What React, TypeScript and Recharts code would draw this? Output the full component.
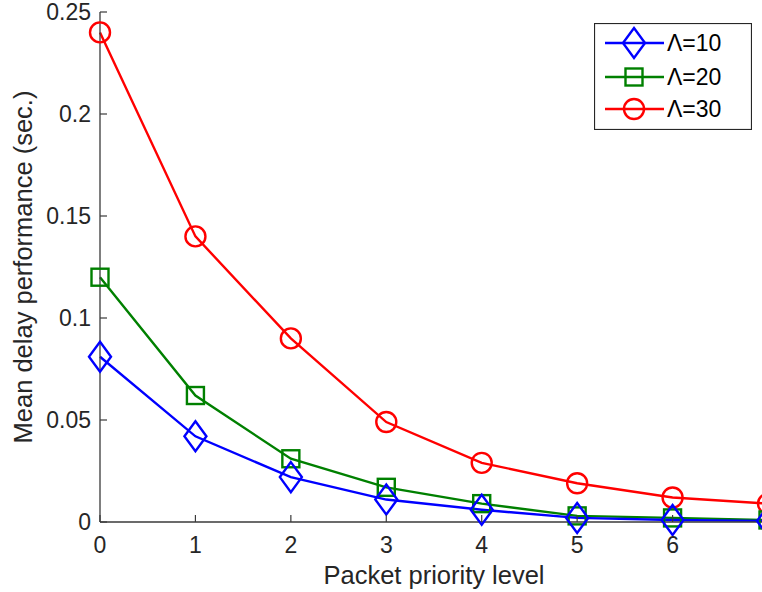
import React from 'react';
import { LineChart, Line, XAxis, YAxis, Legend } from 'recharts';

const priorityLevels = [0, 1, 2, 3, 4, 5, 6, 7];
const lambda10 = [0.081, 0.042, 0.022, 0.011, 0.006, 0.002, 0.001, 0.0005];
const lambda20 = [0.12, 0.062, 0.031, 0.017, 0.009, 0.003, 0.002, 0.001];
const lambda30 = [0.24, 0.14, 0.09, 0.049, 0.029, 0.019, 0.012, 0.009];
const seriesNames = ['Λ=10', 'Λ=20', 'Λ=30'];
const seriesColors = ['#0000ff', '#008000', '#ff0000'];
const seriesShapes = ['diamond', 'square', 'circle'];
const xTicks = [0, 1, 2, 3, 4, 5, 6];
const yTicks = [0, 0.05, 0.1, 0.15, 0.2, 0.25];
const yTickLabels = ['0', '0.05', '0.1', '0.15', '0.2', '0.25'];
const xLabel = 'Packet priority level';
const yLabel = 'Mean delay performance (sec.)';

const data = priorityLevels.map((p, i) => ({
  p,
  s10: lambda10[i],
  s20: lambda20[i],
  s30: lambda30[i],
}));

const FONT = '"Liberation Sans", Arial, Helvetica, sans-serif';
const AXIS = '#262626';
const AXIS_LINE = '#3a3a3a';
const TICK_FS = 23;
const LABEL_FS = 25.5;
const TICK_LEN = 7;
const LW = 2.4;

function Marker({ shape, cx, cy, color }: any) {
  if (cx == null || cy == null) return null;
  if (shape === 'diamond') {
    const w = 11, h = 15;
    return (
      <path
        d={`M${cx},${cy - h}L${cx + w},${cy}L${cx},${cy + h}L${cx - w},${cy}Z`}
        fill="none"
        stroke={color}
        strokeWidth={LW}
      />
    );
  }
  if (shape === 'square') {
    const s = 8.5;
    return (
      <rect x={cx - s} y={cy - s} width={2 * s} height={2 * s} fill="none" stroke={color} strokeWidth={LW} />
    );
  }
  return <circle cx={cx} cy={cy} r={10} fill="none" stroke={color} strokeWidth={LW} />;
}

const makeDot = (shape: string, color: string) => (props: any) => (
  <Marker key={`${shape}-${props.index}`} shape={shape} cx={props.cx} cy={props.cy} color={color} />
);

const BottomTick = (props: any) => {
  const { x, y, payload } = props;
  return (
    <g>
      <line x1={x} y1={y} x2={x} y2={y - TICK_LEN} stroke={AXIS_LINE} strokeWidth={1.2} />
      <text x={x} y={y + 23} textAnchor="middle" dominantBaseline="central" fontSize={TICK_FS} fontFamily={FONT} fill={AXIS}>
        {payload.value}
      </text>
    </g>
  );
};

const TopTick = (props: any) => {
  const { x, y } = props;
  return <line x1={x} y1={y} x2={x} y2={y + TICK_LEN} stroke={AXIS_LINE} strokeWidth={1.2} />;
};

const LeftTick = (props: any) => {
  const { x, y, payload } = props;
  const idx = yTicks.indexOf(payload.value);
  return (
    <g>
      <line x1={x} y1={y} x2={x + TICK_LEN} y2={y} stroke={AXIS_LINE} strokeWidth={1.2} />
      <text x={x - 9} y={y} textAnchor="end" dominantBaseline="central" fontSize={TICK_FS} fontFamily={FONT} fill={AXIS}>
        {idx >= 0 ? yTickLabels[idx] : payload.value}
      </text>
    </g>
  );
};

const RightTick = (props: any) => {
  const { x, y } = props;
  return <line x1={x} y1={y} x2={x - TICK_LEN} y2={y} stroke={AXIS_LINE} strokeWidth={1.2} />;
};

const XLabel = (props: any) => {
  const vb = props.viewBox || {};
  const cx = vb.x + vb.width / 2;
  return (
    <text x={cx} y={vb.y + 62} textAnchor="middle" fontSize={LABEL_FS} fontFamily={FONT} fill={AXIS}>
      {xLabel}
    </text>
  );
};

const YLabel = (props: any) => {
  const vb = props.viewBox || {};
  const cy = vb.y + vb.height / 2;
  const cx = vb.x + 32;
  return (
    <text
      x={cx}
      y={cy}
      transform={`rotate(-90, ${cx}, ${cy})`}
      textAnchor="middle"
      fontSize={LABEL_FS}
      fontFamily={FONT}
      fill={AXIS}
    >
      {yLabel}
    </text>
  );
};

const LegendBox = () => {
  const rowY = [20, 54, 86];
  return (
    <svg width={158} height={107} style={{ display: 'block' }}>
      <rect x={0.5} y={0.5} width={157} height={106} fill="#ffffff" stroke={AXIS} strokeWidth={1.2} />
      {seriesNames.map((name, i) => (
        <g key={name}>
          <line x1={11} y1={rowY[i]} x2={70} y2={rowY[i]} stroke={seriesColors[i]} strokeWidth={LW} />
          <Marker shape={seriesShapes[i]} cx={40} cy={rowY[i]} color={seriesColors[i]} />
          <text x={73} y={rowY[i]} dominantBaseline="central" fontSize={TICK_FS} fontFamily={FONT} fill="#000">
            {name}
          </text>
        </g>
      ))}
    </svg>
  );
};

export default function App() {
  return (
    <div style={{ position: 'absolute', left: 0, top: 0, width: 762, height: 592, overflow: 'hidden', background: '#fff' }}>
      <LineChart
        width={790}
        height={592}
        data={data}
        margin={{ top: 12, right: 22, bottom: 0, left: 0 }}
      >
        <XAxis
          xAxisId="bottom"
          dataKey="p"
          type="number"
          domain={[0, 7]}
          ticks={xTicks}
          orientation="bottom"
          height={70}
          tickSize={0}
          tickMargin={0}
          tickLine={false}
          axisLine={{ stroke: AXIS_LINE, strokeWidth: 1.3 }}
          tick={<BottomTick />}
          interval={0}
          label={<XLabel />}
        />
        <XAxis
          xAxisId="top"
          dataKey="p"
          type="number"
          domain={[0, 7]}
          ticks={xTicks}
          orientation="top"
          height={0}
          tickSize={0}
          tickMargin={0}
          tickLine={false}
          axisLine={{ stroke: AXIS_LINE, strokeWidth: 1.3 }}
          tick={<TopTick />}
          interval={0}
        />
        <YAxis
          yAxisId="left"
          type="number"
          domain={[0, 0.25]}
          ticks={yTicks}
          width={100}
          tickSize={0}
          tickMargin={0}
          tickLine={false}
          axisLine={{ stroke: AXIS_LINE, strokeWidth: 1.3 }}
          tick={<LeftTick />}
          interval={0}
          label={<YLabel />}
        />
        <YAxis
          yAxisId="right"
          orientation="right"
          type="number"
          domain={[0, 0.25]}
          ticks={yTicks}
          width={0}
          tickSize={0}
          tickMargin={0}
          tickLine={false}
          axisLine={{ stroke: AXIS_LINE, strokeWidth: 1.3 }}
          tick={<RightTick />}
          interval={0}
        />
        <Line
          xAxisId="bottom"
          yAxisId="left"
          dataKey="s30"
          name={seriesNames[2]}
          stroke={seriesColors[2]}
          strokeWidth={LW}
          dot={makeDot('circle', seriesColors[2])}
          isAnimationActive={false}
        />
        <Line
          xAxisId="bottom"
          yAxisId="left"
          dataKey="s20"
          name={seriesNames[1]}
          stroke={seriesColors[1]}
          strokeWidth={LW}
          dot={makeDot('square', seriesColors[1])}
          isAnimationActive={false}
        />
        <Line
          xAxisId="bottom"
          yAxisId="left"
          dataKey="s10"
          name={seriesNames[0]}
          stroke={seriesColors[0]}
          strokeWidth={LW}
          dot={makeDot('diamond', seriesColors[0])}
          isAnimationActive={false}
        />
        <Legend
          layout="vertical"
          align="center"
          verticalAlign="middle"
          content={() => <LegendBox />}
          wrapperStyle={{ position: 'absolute', left: 594, top: 23, width: 158, height: 107 }}
        />
      </LineChart>
    </div>
  );
}
